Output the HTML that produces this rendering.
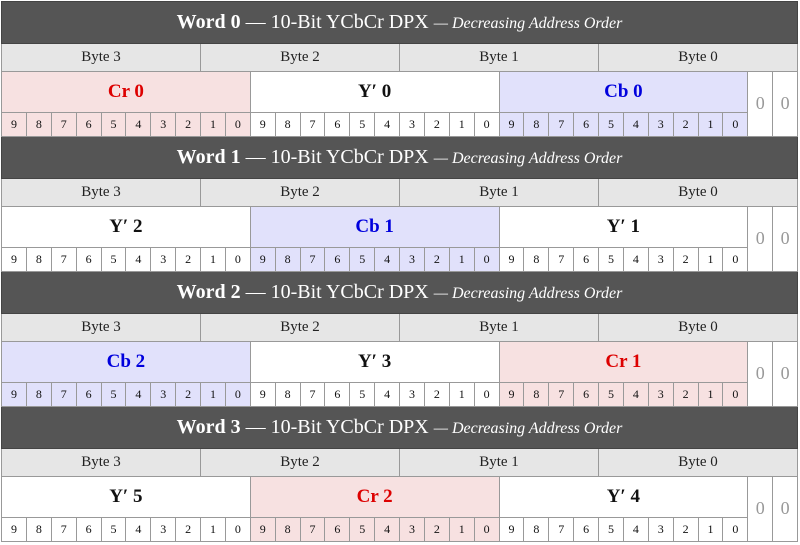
<!DOCTYPE html>
<html><head><meta charset="utf-8"><style>
body{margin:0;background:#fff;width:800px;height:545px;overflow:hidden}
table{position:absolute;left:1px;top:1px;width:797px;border-collapse:collapse;table-layout:fixed;font-family:"Liberation Serif",serif}
td{border:1px solid #999;padding:0;text-align:center;overflow:hidden;white-space:nowrap}
tr.h td{background:#555;color:#fff;height:40.5px;font-size:20px;border-color:#444}
tr.h b{font-size:20px}
tr.h i{font-size:16px}
tr.b td{background:#e6e6e6;height:27px;font-size:15px;color:#222}
tr.c td{height:40px;font-size:19px;font-weight:bold}
tr.n td{height:23.5px;font-size:12px;color:#111}
.p{background:#f7e1e1}.v{background:#e1e1fb}.w{background:#fff}
.r{color:#d00}.bl{color:#00d}.k{color:#111}
tr.c td.z{font-size:18px;color:#999;font-weight:normal;background:#fff}
</style></head><body>
<table>
<colgroup><col><col><col><col><col><col><col><col><col><col><col><col><col><col><col><col><col><col><col><col><col><col><col><col><col><col><col><col><col><col><col><col></colgroup>

<tr class="h"><td colspan="32"><b>Word 0</b> — 10-Bit YCbCr DPX <i>— Decreasing Address Order</i></td></tr>
<tr class="b"><td colspan="8">Byte 3</td><td colspan="8">Byte 2</td><td colspan="8">Byte 1</td><td colspan="8">Byte 0</td></tr>
<tr class="c"><td colspan="10" class="p r">Cr 0</td><td colspan="10" class="w k">Y′ 0</td><td colspan="10" class="v bl">Cb 0</td><td rowspan="2" class="z">0</td><td rowspan="2" class="z">0</td></tr>
<tr class="n"><td class="p">9</td><td class="p">8</td><td class="p">7</td><td class="p">6</td><td class="p">5</td><td class="p">4</td><td class="p">3</td><td class="p">2</td><td class="p">1</td><td class="p">0</td><td>9</td><td>8</td><td>7</td><td>6</td><td>5</td><td>4</td><td>3</td><td>2</td><td>1</td><td>0</td><td class="v">9</td><td class="v">8</td><td class="v">7</td><td class="v">6</td><td class="v">5</td><td class="v">4</td><td class="v">3</td><td class="v">2</td><td class="v">1</td><td class="v">0</td></tr>

<tr class="h"><td colspan="32"><b>Word 1</b> — 10-Bit YCbCr DPX <i>— Decreasing Address Order</i></td></tr>
<tr class="b"><td colspan="8">Byte 3</td><td colspan="8">Byte 2</td><td colspan="8">Byte 1</td><td colspan="8">Byte 0</td></tr>
<tr class="c"><td colspan="10" class="w k">Y′ 2</td><td colspan="10" class="v bl">Cb 1</td><td colspan="10" class="w k">Y′ 1</td><td rowspan="2" class="z">0</td><td rowspan="2" class="z">0</td></tr>
<tr class="n"><td>9</td><td>8</td><td>7</td><td>6</td><td>5</td><td>4</td><td>3</td><td>2</td><td>1</td><td>0</td><td class="v">9</td><td class="v">8</td><td class="v">7</td><td class="v">6</td><td class="v">5</td><td class="v">4</td><td class="v">3</td><td class="v">2</td><td class="v">1</td><td class="v">0</td><td>9</td><td>8</td><td>7</td><td>6</td><td>5</td><td>4</td><td>3</td><td>2</td><td>1</td><td>0</td></tr>

<tr class="h"><td colspan="32"><b>Word 2</b> — 10-Bit YCbCr DPX <i>— Decreasing Address Order</i></td></tr>
<tr class="b"><td colspan="8">Byte 3</td><td colspan="8">Byte 2</td><td colspan="8">Byte 1</td><td colspan="8">Byte 0</td></tr>
<tr class="c"><td colspan="10" class="v bl">Cb 2</td><td colspan="10" class="w k">Y′ 3</td><td colspan="10" class="p r">Cr 1</td><td rowspan="2" class="z">0</td><td rowspan="2" class="z">0</td></tr>
<tr class="n"><td class="v">9</td><td class="v">8</td><td class="v">7</td><td class="v">6</td><td class="v">5</td><td class="v">4</td><td class="v">3</td><td class="v">2</td><td class="v">1</td><td class="v">0</td><td>9</td><td>8</td><td>7</td><td>6</td><td>5</td><td>4</td><td>3</td><td>2</td><td>1</td><td>0</td><td class="p">9</td><td class="p">8</td><td class="p">7</td><td class="p">6</td><td class="p">5</td><td class="p">4</td><td class="p">3</td><td class="p">2</td><td class="p">1</td><td class="p">0</td></tr>

<tr class="h"><td colspan="32"><b>Word 3</b> — 10-Bit YCbCr DPX <i>— Decreasing Address Order</i></td></tr>
<tr class="b"><td colspan="8">Byte 3</td><td colspan="8">Byte 2</td><td colspan="8">Byte 1</td><td colspan="8">Byte 0</td></tr>
<tr class="c"><td colspan="10" class="w k">Y′ 5</td><td colspan="10" class="p r">Cr 2</td><td colspan="10" class="w k">Y′ 4</td><td rowspan="2" class="z">0</td><td rowspan="2" class="z">0</td></tr>
<tr class="n"><td>9</td><td>8</td><td>7</td><td>6</td><td>5</td><td>4</td><td>3</td><td>2</td><td>1</td><td>0</td><td class="p">9</td><td class="p">8</td><td class="p">7</td><td class="p">6</td><td class="p">5</td><td class="p">4</td><td class="p">3</td><td class="p">2</td><td class="p">1</td><td class="p">0</td><td>9</td><td>8</td><td>7</td><td>6</td><td>5</td><td>4</td><td>3</td><td>2</td><td>1</td><td>0</td></tr>
</table>
</body></html>
